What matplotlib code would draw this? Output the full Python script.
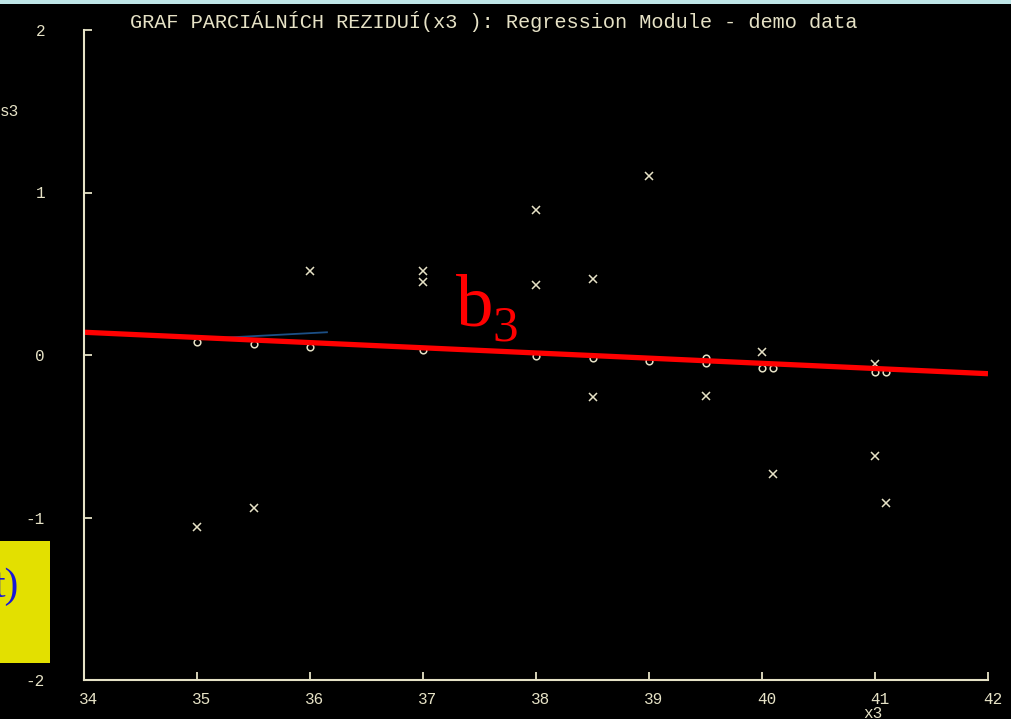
import matplotlib
matplotlib.use("Agg")
import matplotlib.pyplot as plt
from matplotlib.patches import Rectangle
from matplotlib.transforms import ScaledTranslation

# partial residuals for x3
x3_vals = [35, 35.5, 36, 37, 37, 38, 38, 38.5, 38.5, 39, 39.5, 40, 40.1, 41, 41, 41.1]
res_vals = [-1.06, -0.94, 0.52, 0.52, 0.45, 0.89, 0.43, 0.47, -0.26, 1.10, -0.25, 0.02, -0.73, -0.055, -0.62, -0.91]

# fitted component values (drawn as small circles)
fit_x = [35, 35.5, 36, 37, 38, 38.5, 39, 39.5, 39.5, 40, 40.1, 41, 41.1]
fit_y = [0.08, 0.068, 0.049, 0.031, -0.006, -0.018, -0.037, -0.02, -0.049, -0.08, -0.08, -0.105, -0.105]

# regression line b3 and a short reference segment
line_x = [34, 42]
line_y = [0.14, -0.115]
ref_x = [35.2, 36.15]
ref_y = [0.105, 0.14]

xticks = [34, 35, 36, 37, 38, 39, 40, 41, 42]
yticks = [-2, -1, 0, 1, 2]

fg = "#e6e2c6"
mono = "Liberation Mono"

fig = plt.figure(figsize=(10.11, 7.19), dpi=100)
fig.patch.set_facecolor("black")
ax = fig.add_axes([84 / 1011, 1 - 680 / 719, 904 / 1011, 650 / 719])
ax.set_facecolor("black")

ax.plot(x3_vals, res_vals, linestyle="none", marker="x", ms=5.5, mew=1.1, color=fg)
ax.plot(fit_x, fit_y, linestyle="none", marker="o", ms=4.8, mew=1.1,
        markerfacecolor="none", markeredgecolor=fg)
ax.plot(ref_x, ref_y, color="#1c4f86", lw=1.3)
ax.plot(line_x, line_y, color="#ff0000", lw=3.8, solid_capstyle="butt")

ax.set_xlim(34, 42)
ax.set_ylim(-2, 2)
ax.set_xticks(xticks)
ax.set_yticks(yticks)
ax.set_xticklabels([str(t) for t in xticks], family=mono, fontsize=11.5, color=fg)
ax.set_yticklabels([str(t) for t in yticks], family=mono, fontsize=11.5, color=fg)
ax.tick_params(axis="x", direction="in", length=6, width=1.3, color=fg, pad=9)
ax.tick_params(axis="y", direction="in", length=6, width=1.3, color=fg, pad=28)
# x labels sit a little to the right of their ticks
shift = ScaledTranslation(5 / 100, 0, fig.dpi_scale_trans)
for lbl in ax.get_xticklabels():
    lbl.set_transform(lbl.get_transform() + shift)
for side in ["top", "right"]:
    ax.spines[side].set_visible(False)
for side in ["left", "bottom"]:
    ax.spines[side].set_color(fg)
    ax.spines[side].set_linewidth(1.5)

# top border strip
fig.add_artist(Rectangle((0, 1 - 4 / 719), 1, 4 / 719, transform=fig.transFigure,
                         facecolor="#bfe6e8", edgecolor="none"))

fig.text(130 / 1011, 1 - 21 / 719, "GRAF PARCIÁLNÍCH REZIDUÍ(x3 ): Regression Module - demo data",
         family=mono, fontsize=14.6, color=fg, ha="left", va="center")
fig.text(0, 1 - 111 / 719, "s3", family=mono, fontsize=11.5, color=fg, ha="left", va="center")
fig.text(873 / 1011, 1 - 713 / 719, "x3", family=mono, fontsize=11.5, color=fg, ha="center", va="center")

# b3 label
fig.text(456 / 1011, 1 - 325 / 719, "b", family="Liberation Serif", fontsize=54,
         color="#ff0000", ha="left", va="baseline")
fig.text(492 / 1011, 1 - 340 / 719, "3", family="Liberation Serif", fontsize=37,
         color="#ff0000", ha="left", va="baseline")

# yellow box at the left edge
fig.add_artist(Rectangle((0, 1 - 663 / 719), 50 / 1011, 122 / 719, transform=fig.transFigure,
                         facecolor="#e3e000", edgecolor="none"))
fig.text(19 / 1011, 1 - 597 / 719, "t)", family="Liberation Serif", fontsize=30,
         color="#1818d8", ha="right", va="baseline")

fig.savefig("out.png", dpi=100, facecolor=fig.get_facecolor())
